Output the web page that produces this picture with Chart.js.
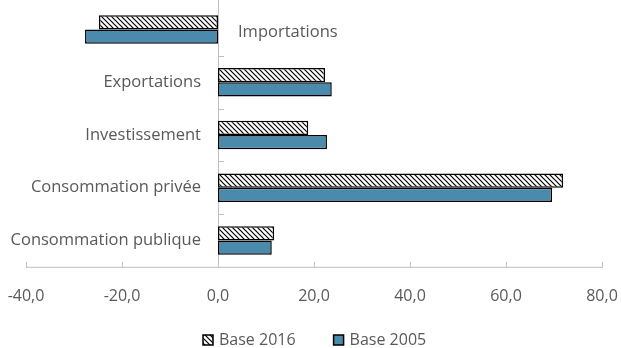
<!DOCTYPE html>
<html>
<head>
<meta charset="utf-8">
<script src="https://cdn.jsdelivr.net/npm/chart.js@4.4.1/dist/chart.umd.min.js"></script>
<style>
  html, body { margin: 0; background: #fff; }
  #wrap { width: 621px; height: 348px; position: relative; }
</style>
</head>
<body>
<div id="wrap"><canvas id="chart"></canvas></div>
<script>
// données
const categories = ['Importations', 'Exportations', 'Investissement', 'Consommation privée', 'Consommation publique'];
const base2016 = [-24.8, 22.3, 18.8, 71.9, 11.7];
const base2005 = [-27.7, 23.7, 22.7, 69.6, 11.2];
const xTicks = [-40, -20, 0, 20, 40, 60, 80];

const FONT = "'Open Sans', 'Noto Sans', sans-serif";
const TXT = '#595959';
const canvas = document.getElementById('chart');
const ctx = canvas.getContext('2d');

// motif hachuré pour Base 2016
function makeHatch() {
    const s = 5;
    const c = document.createElement('canvas');
    c.width = s; c.height = s;
    const g = c.getContext('2d');
    g.fillStyle = '#fff';
    g.fillRect(0, 0, s, s);
    g.strokeStyle = '#000';
    g.lineWidth = 1.2;
    g.beginPath();
    g.moveTo(-1, -1); g.lineTo(s + 1, s + 1);
    g.moveTo(-1, s - 1); g.lineTo(1, s + 1);
    g.moveTo(s - 1, -1); g.lineTo(s + 1, 1);
    g.stroke();
    return ctx.createPattern(c, 'repeat');
}
const hatch = makeHatch();

// axes, repères, libellés des catégories et légende
const axisDecor = {
    id: 'axisDecor',
    beforeDatasetsDraw(chart) {
        const { ctx, chartArea: a, scales: { x, y } } = chart;
        const x0 = x.getPixelForValue(0);
        ctx.save();
        ctx.strokeStyle = '#bfbfbf';
        ctx.lineWidth = 1;
        ctx.beginPath();
        ctx.moveTo(a.left, a.bottom + 0.5);
        ctx.lineTo(a.right, a.bottom + 0.5);
        ctx.moveTo(Math.round(x0) + 0.5, 0);
        ctx.lineTo(Math.round(x0) + 0.5, a.bottom);
        xTicks.forEach(v => {
            const px = Math.round(x.getPixelForValue(v)) + 0.5;
            ctx.moveTo(px, a.bottom - 5);
            ctx.lineTo(px, a.bottom + 1);
        });
        for (let i = 0; i < categories.length - 1; i++) {
            const py = Math.round(y.getPixelForValue(i + 0.5)) + 0.5;
            ctx.moveTo(x0, py);
            ctx.lineTo(x0 + 6, py);
        }
        ctx.stroke();
        ctx.restore();
    },
    afterDraw(chart) {
        const { ctx, scales: { x, y } } = chart;
        const x0 = x.getPixelForValue(0);
        ctx.save();
        ctx.font = '16.5px ' + FONT;
        ctx.fillStyle = TXT;
        ctx.textBaseline = 'middle';
        categories.forEach((c, i) => {
            const py = y.getPixelForValue(i);
            const neg = base2016[i] < 0 && base2005[i] < 0;
            ctx.textAlign = neg ? 'left' : 'right';
            ctx.fillText(c, neg ? x0 + 20 : x0 - 17, neg ? py + 3 : py);
        });

        // légende
        ctx.font = '16px ' + FONT;
        ctx.textAlign = 'left';
        const ds = chart.data.datasets;
        const box = 10, gap = 6, between = 38;
        const widths = ds.map(d => box + gap + ctx.measureText(d.label).width);
        const total = widths.reduce((s, w) => s + w, 0) + between * (ds.length - 1);
        let lx = Math.round((chart.width - total) / 2) + 4;
        const ly = chart.height - 8;
        ds.forEach((d, i) => {
            ctx.fillStyle = d.backgroundColor;
            ctx.fillRect(lx, ly - box / 2, box, box);
            ctx.strokeStyle = '#000';
            ctx.lineWidth = 1.5;
            ctx.strokeRect(lx, ly - box / 2, box, box);
            ctx.fillStyle = TXT;
            ctx.fillText(d.label, lx + box + gap, ly);
            lx += widths[i] + between;
        });
        ctx.restore();
    }
};

new Chart(ctx, {
    type: 'bar',
    data: {
        labels: categories,
        datasets: [{
            label: 'Base 2016',
            data: base2016,
            backgroundColor: hatch,
            borderColor: '#000',
            borderWidth: 1.5,
            borderSkipped: false
        }, {
            label: 'Base 2005',
            data: base2005,
            backgroundColor: '#4a8aad',
            borderColor: '#000',
            borderWidth: 1.5,
            borderSkipped: false
        }]
    },
    options: {
        indexAxis: 'y',
        responsive: true,
        maintainAspectRatio: false,
        animation: false,
        categoryPercentage: 0.54,
        barPercentage: 1,
        layout: { padding: { top: 3, left: 26, right: 19, bottom: 22 } },
        plugins: {
            legend: { display: false },
            tooltip: { enabled: false }
        },
        scales: {
            x: {
                min: -40,
                max: 80,
                afterBuildTicks: s => { s.ticks = xTicks.map(v => ({ value: v })); },
                afterFit: s => { s.paddingLeft = 0; s.paddingRight = 0; },
                grid: { display: false, drawTicks: false },
                border: { display: false },
                ticks: {
                    padding: 20,
                    color: TXT,
                    font: { family: FONT, size: 16 },
                    maxRotation: 0,
                    callback: v => v.toFixed(1).replace('.', ',')
                }
            },
            y: {
                display: false
            }
        }
    },
    plugins: [axisDecor]
});
</script>
</body>
</html>
